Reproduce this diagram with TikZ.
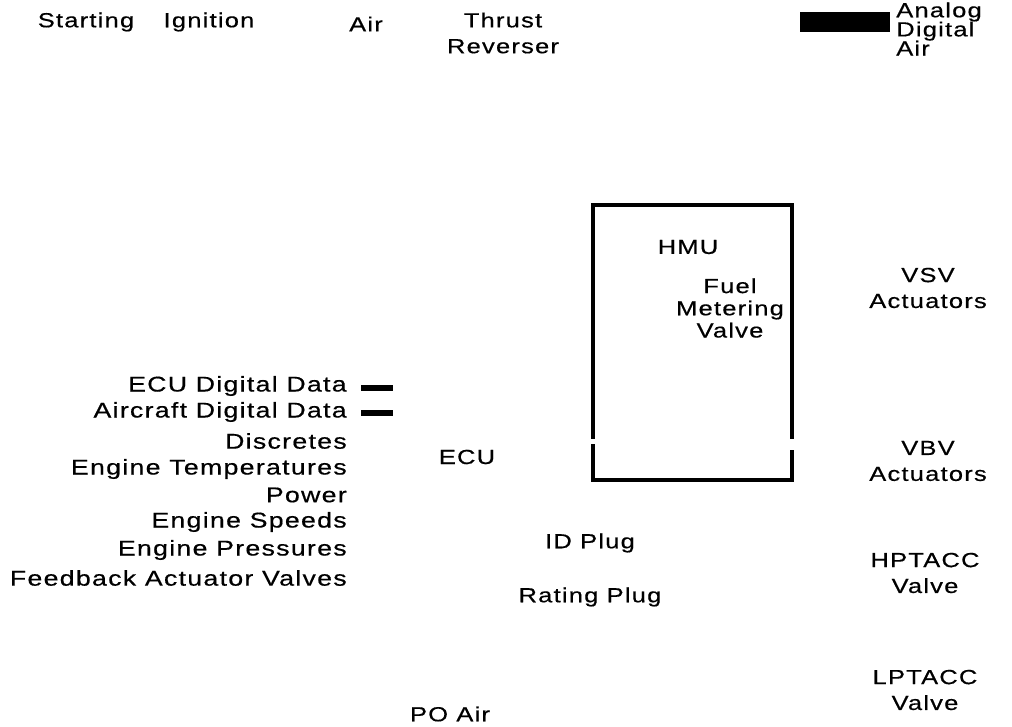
\documentclass[tikz,border=0pt]{standalone}
\usepackage{fontspec}
\setmainfont[FakeStretch=1.25,LetterSpace=6,FakeBold=0.5]{Liberation Sans}
\usepackage{tikz}
\usetikzlibrary{positioning}

\begin{document}
\begin{tikzpicture}[
  x=0.025cm, y=-0.025cm,
  every node/.style={font=\fontsize{14.5}{18.4}\selectfont, inner sep=0pt},
  lbl/.style={align=center},
  sig/.style={anchor=east, font=\fontsize{15.2}{18.4}\selectfont},
  tight/.style={font=\fontsize{14.5}{15.8}\selectfont},
  hmuline/.style={line width=2.2pt, line cap=rect}
]
  \useasboundingbox (0,0) rectangle (1012,727);

  % Riga in alto
  \node[lbl] (start) at (86,22) {Starting};
  \node[lbl] (ign) at (209,22) {Ignition};
  \node[lbl] (air) at (366,24) {Air};
  \node[lbl] (thr) at (503,33) {Thrust\\Reverser};

  % Legenda
  \node[fill=black, minimum width=64pt, minimum height=14pt] (legbar) at (845,22) {};
  \node[anchor=west, align=left, font=\fontsize{14.5}{13.6}\selectfont] (legtxt) at (896,29) {Analog\\Digital\\Air};

  % HMU
  \draw[hmuline] (593,437) -- (593,205) -- (792,205) -- (792,437);
  \draw[hmuline] (593,446) -- (593,480) -- (792,480) -- (792,452);
  \node[lbl] (hmu) at (688,247) {HMU};
  \node[lbl, tight] (fmv) at (730,308) {Fuel\\Metering\\Valve};

  % Segnali in ingresso
  \node[sig] (ecudata) at (347,386) {ECU Digital Data};
  \node[sig] (acdata) at (347,412) {Aircraft Digital Data};
  \node[sig] (disc) at (347,441) {Discretes};
  \node[sig] (temp) at (347,469) {Engine Temperatures};
  \node[sig] (pow) at (347,495) {Power};
  \node[sig] (spd) at (347,522) {Engine Speeds};
  \node[sig] (pres) at (347,550) {Engine Pressures};
  \node[sig] (fbk) at (347,578) {Feedback Actuator Valves};
  \node[fill=black, minimum width=23pt, minimum height=3.8pt] (ecubar) at (377,388) {};
  \node[fill=black, minimum width=23pt, minimum height=3.8pt] (acbar) at (377,413) {};

  % ECU
  \node[lbl] (ecu) at (467,457) {ECU};
  \node[lbl] (idp) at (590,543) {ID Plug};
  \node[lbl] (rtp) at (590,597) {Rating Plug};
  \node[lbl] (p0) at (450,714) {PO Air};

  % Attuatori
  \node[lbl] (vsv) at (928,288) {VSV\\Actuators};
  \node[lbl] (vbv) at (928,461) {VBV\\Actuators};
  \node[lbl] (hpt) at (925,573) {HPTACC\\Valve};
  \node[lbl] (lpt) at (925,690) {LPTACC\\Valve};

\end{tikzpicture}
\end{document}
